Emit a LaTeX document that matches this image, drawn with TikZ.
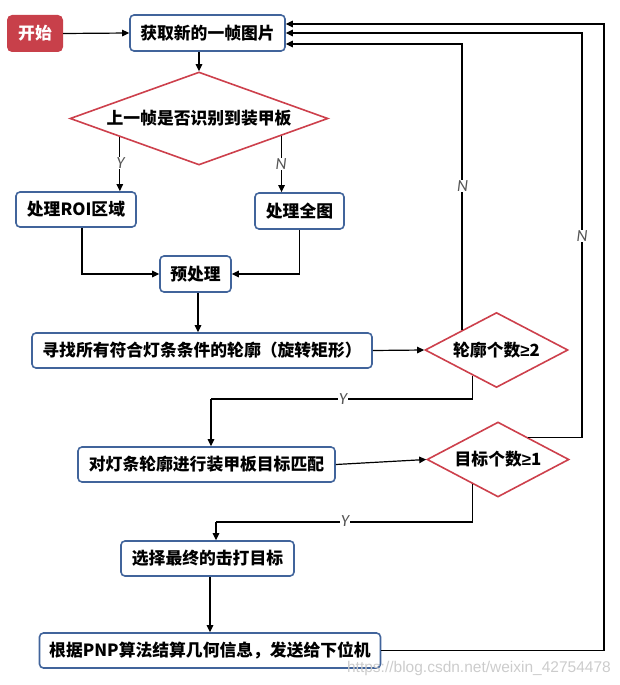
\documentclass[tikz,border=0pt]{standalone}
\usepackage{fontspec}
\setmainfont{Liberation Sans}
\newfontfamily\cjk{Noto Sans CJK SC}
\newfontfamily\geqfont{Liberation Sans}
\newfontfamily\labfont{Carlito}
\usetikzlibrary{arrows.meta,calc,shapes.geometric}
\definecolor{boxblue}{RGB}{65,100,155}
\definecolor{diared}{RGB}{205,64,76}
\definecolor{startred}{RGB}{200,64,74}
\definecolor{labgray}{RGB}{85,85,85}
\begin{document}
\begin{tikzpicture}[x=1pt,y=-1pt,
  txt/.style={font=\cjk\bfseries\fontsize{16.8}{19}\selectfont},
  box/.style={txt, draw=boxblue, line width=1.6pt, rounded corners=4pt, fill=white, inner sep=0pt},
  startbox/.style={txt, fill=startred, text=white, rounded corners=5pt, inner sep=0pt},
  dia/.style={txt, diamond, draw=diared, line width=1.6pt, fill=white, inner sep=0pt},
  arr/.style={line width=1.2pt, -{Triangle[length=7pt,width=6.5pt]}},
  ln/.style={line width=1.2pt},
  lbl/.style={font=\labfont\itshape\fontsize{17}{18}\selectfont, text=labgray, fill=white, inner sep=1pt}
]
\useasboundingbox (0,0) rectangle (620,685);

% nodes
\node[startbox, minimum width=56pt, minimum height=37pt] (s) at (35,33.5) {开始};
\node[box, minimum width=155pt, minimum height=36pt] (b1) at (207.5,33) {获取新的一帧图片};
\node[dia, aspect=2.77, minimum width=258pt, minimum height=93pt] (d1) at (199,118.5) {上一帧是否识别到装甲板};
\node[box, minimum width=120pt, minimum height=35pt] (b2a) at (76,209.5) {处理ROI区域};
\node[box, minimum width=89pt, minimum height=36pt] (b2b) at (299.5,211) {处理全图};
\node[box, minimum width=71pt, minimum height=36pt] (b3) at (195.5,274) {预处理};
\node[box, minimum width=340pt, minimum height=35pt] (b4) at (202,350.5) {寻找所有符合灯条条件的轮廓（旋转矩形）};
\node[dia, aspect=1.9, minimum width=143pt, minimum height=75pt] (d2) at (496.5,350) {轮廓个数{\geqfont ≥}2};
\node[box, minimum width=257pt, minimum height=35pt] (b5) at (206.5,464.5) {对灯条轮廓进行装甲板目标匹配};
\node[dia, aspect=1.9, minimum width=142pt, minimum height=75pt] (d3) at (498,459.5) {目标个数{\geqfont ≥}1};
\node[box, minimum width=173pt, minimum height=35pt] (b6) at (207.5,558.5) {选择最终的击打目标};
\node[box, minimum width=341pt, minimum height=35pt] (b7) at (210,650.5) {根据PNP算法结算几何信息，发送给下位机};

% helper coordinates
\coordinate (d1y) at ($(d1.west)!0.39!(d1.south)$);
\coordinate (d1n) at ($(d1.south)!0.636!(d1.east)$);
\coordinate (d2n) at ($(d2.west)!0.524!(d2.north)$);
\coordinate (d2y) at ($(d2.west)!0.671!(d2.south)$);
\coordinate (d3n) at ($(d3.north)!0.42!(d3.east)$);
\coordinate (d3y) at ($(d3.west)!0.648!(d3.south)$);
\coordinate (r1) at (462.5,44);
\coordinate (r2) at (582,33);
\coordinate (r3) at (604,24);
\coordinate (k2) at (211,399);
\coordinate (k3) at (216,522);
\coordinate (b3o) at ($(b3.south)+(2.5,0)$);
\coordinate (b2ao) at ($(b2a.south)+(6,0)$);

% connectors
\draw[arr] (s.east) -- (b1.west);
\draw[arr] (b1.south -| d1.north) -- (d1.north);
\draw[arr] (d1y) -- (d1y |- b2a.north);
\draw[arr] (d1n) -- (d1n |- b2b.north);
\draw[arr] (b2ao) |- (b3.west);
\draw[arr] (b2b.south) |- (b3.east);
\draw[arr] (b3o) -- (b3o |- b4.north);
\draw[arr] (b4.east) -- (d2.west);
\draw[arr] (d2n) |- (b1.east |- r1);
\draw[ln] (d2y) |- (k2);
\draw[arr] (k2) -- (k2 |- b5.north);
\draw[arr] (b5.east) -- (d3.west);
\draw[arr] (d3n) -| (r2) -- (b1.east |- r2);
\draw[ln] (d3y) |- (k3);
\draw[arr] (k3) -- (k3 |- b6.north);
\draw[arr] (b6.south -| b7.north) -- (b7.north);
\draw[arr] (b7.east) -| (r3) -- (b1.east |- r3);

% labels
\node[lbl] (ly1) at (120.5,163) {Y};
\node[lbl] (ln1) at (281,164) {N};
\node[lbl] (ln2) at (462.5,186) {N};
\node[lbl] (ln3) at (582,236) {N};
\node[lbl] (ly2) at (343,399) {Y};
\node[lbl] (ly3) at (345,521) {Y};

% watermark
\node[font=\fontsize{15.5}{17}\selectfont, text=black!20, anchor=east, inner sep=0pt] (wm) at (611,668) {https://blog.csdn.net/weixin\_42754478};
\end{tikzpicture}
\end{document}
